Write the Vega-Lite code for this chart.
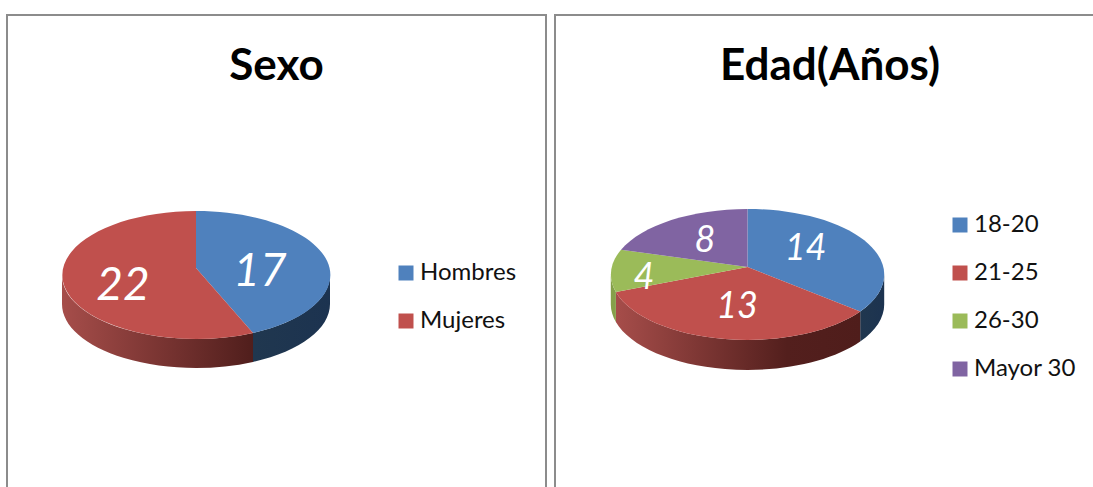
{"$schema":"https://vega.github.io/schema/vega-lite/v6.json","padding":{"left":6,"top":14,"right":0,"bottom":0},"background":"white","datasets":{"sexo":[{"grupo":"Hombres","valor":17},{"grupo":"Mujeres","valor":22}],"edad":[{"grupo":"18-20","valor":14},{"grupo":"21-25","valor":13},{"grupo":"26-30","valor":4},{"grupo":"Mayor 30","valor":8}]},"config":{"view":{"stroke":"#8c8c8c","strokeWidth":2},"font":"Lato","title":{"font":"Lato","fontSize":44,"fontWeight":"bold","color":"#000000","anchor":"middle","offset":-74,"baseline":"alphabetic"},"legend":{"labelFont":"Lato","labelFontSize":24,"labelColor":"#111111","symbolType":"square","symbolSize":225,"symbolStrokeWidth":0,"labelOffset":2,"rowPadding":24,"title":null},"text":{"font":"Lato","fontStyle":"italic","color":"#ffffff"}},"hconcat":[{"width":539,"height":500,"title":"Sexo","data":{"name":"sexo"},"layer":[{"transform":[{"filter":"datum.grupo==='Hombres'"}],"mark":{"type":"point","filled":true,"opacity":1,"size":4,"strokeWidth":0,"shape":"M134,7 A134,64 0 0 1 57,65 L57,94 A134,64 0 0 0 134,36 Z","fill":{"gradient":"linear","x1":0,"x2":1,"y1":0,"y2":0,"stops":[{"offset":0,"color":"#20374f"},{"offset":1,"color":"#1c3350"}]}},"encoding":{"x":{"datum":0,"type":"quantitative","axis":null,"scale":{"domain":[-189,350],"nice":false,"zero":false}},"y":{"datum":0,"type":"quantitative","axis":null,"scale":{"domain":[-253,247],"reverse":true,"nice":false,"zero":false}}}},{"transform":[{"filter":"datum.grupo==='Mujeres'"}],"mark":{"type":"point","filled":true,"opacity":1,"size":4,"strokeWidth":0,"shape":"M-134,7 A134,64 0 0 0 57,65 L57,94 A134,64 0 0 1 -134,36 Z","fill":{"gradient":"linear","x1":0,"x2":1,"y1":0,"y2":0,"stops":[{"offset":0,"color":"#a64d4a"},{"offset":1,"color":"#501e1c"}]}},"encoding":{"x":{"datum":0,"type":"quantitative","axis":null,"scale":{"domain":[-189,350],"nice":false,"zero":false}},"y":{"datum":0,"type":"quantitative","axis":null,"scale":{"domain":[-253,247],"reverse":true,"nice":false,"zero":false}}}},{"transform":[{"filter":"datum.grupo==='Hombres'"}],"mark":{"type":"point","filled":true,"opacity":1,"size":4,"strokeWidth":0,"shape":"M0,0 L0,-57 A134,64 0 0 1 57,65 Z"},"encoding":{"x":{"datum":0,"type":"quantitative","axis":null,"scale":{"domain":[-189,350],"nice":false,"zero":false}},"y":{"datum":0,"type":"quantitative","axis":null,"scale":{"domain":[-253,247],"reverse":true,"nice":false,"zero":false}},"color":{"field":"grupo","type":"nominal","legend":{"orient":"none","legendX":387,"legendY":246,"symbolType":"square"},"scale":{"domain":["Hombres","Mujeres"],"range":["#4f81bd","#c0504d"]}}}},{"transform":[{"filter":"datum.grupo==='Mujeres'"}],"mark":{"type":"point","filled":true,"opacity":1,"size":4,"strokeWidth":0,"shape":"M0,0 L57,65 A134,64 0 1 1 0,-57 Z"},"encoding":{"x":{"datum":0,"type":"quantitative","axis":null,"scale":{"domain":[-189,350],"nice":false,"zero":false}},"y":{"datum":0,"type":"quantitative","axis":null,"scale":{"domain":[-253,247],"reverse":true,"nice":false,"zero":false}},"color":{"field":"grupo","type":"nominal","legend":{"orient":"none","legendX":387,"legendY":246,"symbolType":"square"},"scale":{"domain":["Hombres","Mujeres"],"range":["#4f81bd","#c0504d"]}}}},{"transform":[{"filter":"datum.grupo==='Hombres'"}],"mark":{"type":"text","fontSize":46,"baseline":"middle","align":"center"},"encoding":{"x":{"datum":64,"type":"quantitative","axis":null,"scale":{"domain":[-189,350],"nice":false,"zero":false}},"y":{"datum":4,"type":"quantitative","axis":null,"scale":{"domain":[-253,247],"reverse":true,"nice":false,"zero":false}},"text":{"field":"valor","type":"quantitative"}}},{"transform":[{"filter":"datum.grupo==='Mujeres'"}],"mark":{"type":"text","fontSize":46,"baseline":"middle","align":"center"},"encoding":{"x":{"datum":-73,"type":"quantitative","axis":null,"scale":{"domain":[-189,350],"nice":false,"zero":false}},"y":{"datum":18,"type":"quantitative","axis":null,"scale":{"domain":[-253,247],"reverse":true,"nice":false,"zero":false}},"text":{"field":"valor","type":"quantitative"}}}]},{"width":550,"height":500,"title":"Edad(Años)","data":{"name":"edad"},"layer":[{"transform":[{"filter":"datum.grupo==='18-20'"}],"mark":{"type":"point","filled":true,"opacity":1,"size":4,"strokeWidth":0,"shape":"M136.7,7.5 A136.7,65.5 0 0 1 112.7,44.6 L112.7,74.6 A136.7,65.5 0 0 0 136.7,37.5 Z","fill":{"gradient":"linear","x1":0,"x2":1,"y1":0,"y2":0,"stops":[{"offset":0,"color":"#20374f"},{"offset":1,"color":"#1c3350"}]}},"encoding":{"x":{"datum":0,"type":"quantitative","axis":null,"scale":{"domain":[-192.5,357.5],"nice":false,"zero":false}},"y":{"datum":0,"type":"quantitative","axis":null,"scale":{"domain":[-252,248],"reverse":true,"nice":false,"zero":false}}}},{"transform":[{"filter":"datum.grupo==='21-25'"}],"mark":{"type":"point","filled":true,"opacity":1,"size":4,"strokeWidth":0,"shape":"M112.7,44.6 A136.7,65.5 0 0 1 -131.6,25 L-131.6,55 A136.7,65.5 0 0 0 112.7,74.6 Z","fill":{"gradient":"linear","x1":0,"x2":1,"y1":0,"y2":0,"stops":[{"offset":0,"color":"#a64d4a"},{"offset":0.7,"color":"#531f1d"},{"offset":1,"color":"#4f1d1b"}]}},"encoding":{"x":{"datum":0,"type":"quantitative","axis":null,"scale":{"domain":[-192.5,357.5],"nice":false,"zero":false}},"y":{"datum":0,"type":"quantitative","axis":null,"scale":{"domain":[-252,248],"reverse":true,"nice":false,"zero":false}}}},{"transform":[{"filter":"datum.grupo==='26-30'"}],"mark":{"type":"point","filled":true,"opacity":1,"size":4,"strokeWidth":0,"shape":"M-131.6,25 A136.7,65.5 0 0 1 -136.7,7.5 L-136.7,37.5 A136.7,65.5 0 0 0 -131.6,55 Z","fill":"#85a04a"},"encoding":{"x":{"datum":0,"type":"quantitative","axis":null,"scale":{"domain":[-192.5,357.5],"nice":false,"zero":false}},"y":{"datum":0,"type":"quantitative","axis":null,"scale":{"domain":[-252,248],"reverse":true,"nice":false,"zero":false}}}},{"transform":[{"filter":"datum.grupo==='18-20'"}],"mark":{"type":"point","filled":true,"opacity":1,"size":4,"strokeWidth":0,"shape":"M0,0 L0,-58 A136.7,65.5 0 0 1 112.7,44.6 Z"},"encoding":{"x":{"datum":0,"type":"quantitative","axis":null,"scale":{"domain":[-192.5,357.5],"nice":false,"zero":false}},"y":{"datum":0,"type":"quantitative","axis":null,"scale":{"domain":[-252,248],"reverse":true,"nice":false,"zero":false}},"color":{"field":"grupo","type":"nominal","legend":{"orient":"none","legendX":393,"legendY":198,"symbolType":"square"},"scale":{"domain":["18-20","21-25","26-30","Mayor 30"],"range":["#4f81bd","#c0504d","#9bbb59","#8064a2"]}}}},{"transform":[{"filter":"datum.grupo==='21-25'"}],"mark":{"type":"point","filled":true,"opacity":1,"size":4,"strokeWidth":0,"shape":"M0,0 L112.7,44.6 A136.7,65.5 0 0 1 -131.6,25 Z"},"encoding":{"x":{"datum":0,"type":"quantitative","axis":null,"scale":{"domain":[-192.5,357.5],"nice":false,"zero":false}},"y":{"datum":0,"type":"quantitative","axis":null,"scale":{"domain":[-252,248],"reverse":true,"nice":false,"zero":false}},"color":{"field":"grupo","type":"nominal","legend":{"orient":"none","legendX":393,"legendY":198,"symbolType":"square"},"scale":{"domain":["18-20","21-25","26-30","Mayor 30"],"range":["#4f81bd","#c0504d","#9bbb59","#8064a2"]}}}},{"transform":[{"filter":"datum.grupo==='26-30'"}],"mark":{"type":"point","filled":true,"opacity":1,"size":4,"strokeWidth":0,"shape":"M0,0 L-131.6,25 A136.7,65.5 0 0 1 -126.5,-17.3 Z"},"encoding":{"x":{"datum":0,"type":"quantitative","axis":null,"scale":{"domain":[-192.5,357.5],"nice":false,"zero":false}},"y":{"datum":0,"type":"quantitative","axis":null,"scale":{"domain":[-252,248],"reverse":true,"nice":false,"zero":false}},"color":{"field":"grupo","type":"nominal","legend":{"orient":"none","legendX":393,"legendY":198,"symbolType":"square"},"scale":{"domain":["18-20","21-25","26-30","Mayor 30"],"range":["#4f81bd","#c0504d","#9bbb59","#8064a2"]}}}},{"transform":[{"filter":"datum.grupo==='Mayor 30'"}],"mark":{"type":"point","filled":true,"opacity":1,"size":4,"strokeWidth":0,"shape":"M0,0 L-126.5,-17.3 A136.7,65.5 0 0 1 0,-58 Z"},"encoding":{"x":{"datum":0,"type":"quantitative","axis":null,"scale":{"domain":[-192.5,357.5],"nice":false,"zero":false}},"y":{"datum":0,"type":"quantitative","axis":null,"scale":{"domain":[-252,248],"reverse":true,"nice":false,"zero":false}},"color":{"field":"grupo","type":"nominal","legend":{"orient":"none","legendX":393,"legendY":198,"symbolType":"square"},"scale":{"domain":["18-20","21-25","26-30","Mayor 30"],"range":["#4f81bd","#c0504d","#9bbb59","#8064a2"]}}}},{"transform":[{"filter":"datum.grupo==='18-20'"}],"mark":{"type":"text","fontSize":36,"baseline":"middle","align":"center"},"encoding":{"x":{"datum":58,"type":"quantitative","axis":null,"scale":{"domain":[-192.5,357.5],"nice":false,"zero":false}},"y":{"datum":-18,"type":"quantitative","axis":null,"scale":{"domain":[-252,248],"reverse":true,"nice":false,"zero":false}},"text":{"field":"valor","type":"quantitative"}}},{"transform":[{"filter":"datum.grupo==='21-25'"}],"mark":{"type":"text","fontSize":36,"baseline":"middle","align":"center"},"encoding":{"x":{"datum":-10.5,"type":"quantitative","axis":null,"scale":{"domain":[-192.5,357.5],"nice":false,"zero":false}},"y":{"datum":40,"type":"quantitative","axis":null,"scale":{"domain":[-252,248],"reverse":true,"nice":false,"zero":false}},"text":{"field":"valor","type":"quantitative"}}},{"transform":[{"filter":"datum.grupo==='26-30'"}],"mark":{"type":"text","fontSize":36,"baseline":"middle","align":"center"},"encoding":{"x":{"datum":-103.5,"type":"quantitative","axis":null,"scale":{"domain":[-192.5,357.5],"nice":false,"zero":false}},"y":{"datum":11,"type":"quantitative","axis":null,"scale":{"domain":[-252,248],"reverse":true,"nice":false,"zero":false}},"text":{"field":"valor","type":"quantitative"}}},{"transform":[{"filter":"datum.grupo==='Mayor 30'"}],"mark":{"type":"text","fontSize":36,"baseline":"middle","align":"center"},"encoding":{"x":{"datum":-42.5,"type":"quantitative","axis":null,"scale":{"domain":[-192.5,357.5],"nice":false,"zero":false}},"y":{"datum":-26,"type":"quantitative","axis":null,"scale":{"domain":[-252,248],"reverse":true,"nice":false,"zero":false}},"text":{"field":"valor","type":"quantitative"}}}]}],"spacing":7,"resolve":{"scale":{"color":"independent"}}}
